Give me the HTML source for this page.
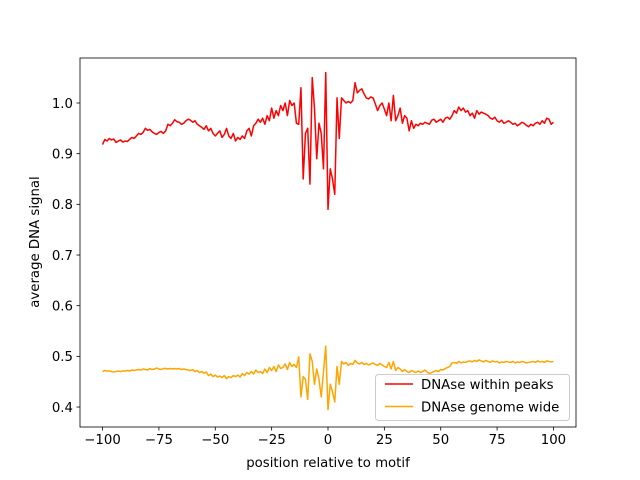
<!DOCTYPE html>
<html><head><meta charset="utf-8"><style>
body{margin:0;background:#fff;}
svg{display:block;font-family:"DejaVu Sans","Liberation Sans",sans-serif;}
</style></head><body>
<svg id="chart" width="640" height="480">
<rect x="0" y="0" width="640" height="480" fill="#fff"/>
<g id="plot"></g>
</svg>
<script>
const positions = [];
for (let u = -100; u <= 100; u++) positions.push(u);
const xTicks = [-100,-75,-50,-25,0,25,50,75,100];
const yTicks = [0.4,0.5,0.6,0.7,0.8,0.9,1.0];
const yTickLabels = ["0.4","0.5","0.6","0.7","0.8","0.9","1.0"];
const seriesNames = ["DNAse within peaks","DNAse genome wide"];
const peaksValues = [
.918,.928,.925,.930,.927,.929,.922,.925,.927,.923,
.925,.924,.928,.932,.930,.935,.940,.938,.942,.950,
.946,.948,.943,.940,.938,.942,.944,.940,.945,.958,
.955,.960,.967,.963,.962,.958,.960,.965,.968,.966,
.962,.965,.958,.955,.952,.948,.955,.945,.950,.940,
.935,.940,.945,.932,.938,.950,.935,.930,.940,.925,
.932,.928,.935,.930,.945,.950,.935,.955,.960,.968,
.962,.970,.958,.975,.965,.990,.970,.985,.975,.995,
.985,1.000,.975,1.005,.995,1.000,.960,.958,1.030,.850,
.940,.950,.840,1.050,.990,.890,.960,.940,.870,1.060,
.790,.870,.850,.820,1.010,.930,1.010,1.005,1.000,1.003,
1.000,1.005,1.040,1.020,1.025,1.028,1.018,1.010,1.008,1.012,
1.010,.998,.985,.995,1.000,.988,.975,1.000,.965,1.015,
.965,.975,.990,.960,.975,.970,.945,.965,.950,.958,
.955,.960,.958,.962,.960,.958,.966,.968,.962,.965,
.968,.962,.970,.972,.968,.975,.985,.980,.992,.985,
.990,.982,.985,.975,.980,.970,.985,.978,.982,.980,
.978,.975,.970,.968,.972,.965,.962,.966,.960,.962,
.965,.962,.958,.960,.955,.958,.962,.960,.956,.953,
.958,.955,.960,.962,.958,.965,.960,.970,.968,.958,
.962];
const genomeValues = [
.470,.472,.471,.471,.470,.469,.470,.471,.470,.471,
.471,.472,.471,.473,.472,.473,.474,.473,.475,.474,
.473,.476,.474,.475,.477,.475,.474,.476,.476,.475,
.476,.475,.476,.475,.476,.474,.475,.474,.473,.472,
.474,.470,.472,.468,.470,.467,.469,.462,.465,.460,
.463,.459,.461,.458,.462,.456,.460,.458,.462,.460,
.463,.459,.466,.462,.468,.465,.470,.465,.473,.468,
.470,.466,.475,.468,.478,.472,.480,.470,.483,.476,
.478,.485,.474,.488,.480,.484,.478,.499,.420,.460,
.455,.415,.505,.490,.445,.475,.455,.420,.470,.520,
.395,.445,.430,.410,.480,.445,.490,.485,.488,.482,
.486,.484,.492,.487,.485,.488,.484,.486,.483,.485,
.487,.484,.482,.486,.483,.480,.478,.488,.475,.490,
.472,.478,.475,.470,.474,.470,.468,.472,.470,.468,
.471,.468,.470,.473,.469,.466,.468,.470,.472,.470,
.474,.473,.476,.478,.480,.487,.488,.486,.490,.487,
.489,.488,.490,.491,.489,.492,.490,.493,.491,.489,
.492,.490,.488,.491,.489,.490,.487,.489,.488,.490,
.489,.488,.490,.487,.489,.488,.490,.489,.487,.488,
.489,.490,.488,.491,.489,.490,.488,.491,.490,.489,
.490];

const L=80,R=576,T=58,B=427;
const xMin=-110,xMax=110;
const yMin=0.3625,yMax=1.0855;
function xs(v){return L+(v-xMin)/(xMax-xMin)*(R-L);}
function ys(v){return 103+(1.0-v)*506.7;}
const NS="http://www.w3.org/2000/svg";
const g=document.getElementById('plot');
function mk(tag,attrs,parent){const e=document.createElementNS(NS,tag);for(const k in attrs)e.setAttribute(k,attrs[k]);(parent||g).appendChild(e);return e;}

function drawLine(vals,color,name){
  const d=vals.map((v,i)=>(i?'L':'M')+xs(positions[i]).toFixed(2)+','+ys(v).toFixed(2)).join(' ');
  const p=mk('path',{d:d,fill:'none',stroke:color,'stroke-width':1.5,'stroke-linejoin':'round'});
  
  
}
drawLine(peaksValues,'#ff0000','series-within-peaks');
drawLine(genomeValues,'#ffa500','series-genome-wide');

// axes frame
const frame=mk('rect',{x:L,y:T,width:R-L,height:B-T,fill:'none',stroke:'#000','stroke-width':0.8});



xTicks.forEach(t=>{
  const x=xs(t);
  mk('line',{x1:x,x2:x,y1:B,y2:B+3.5,stroke:'#000','stroke-width':0.8});
  const tx=mk('text',{x:x,y:B+17,'text-anchor':'middle','font-size':'13.3px',fill:'#000'});
  tx.textContent=String(t).replace('-','\u2212');
  
  
});
yTicks.forEach((t,i)=>{
  const y=ys(t);
  mk('line',{x1:L-3.5,x2:L,y1:y,y2:y,stroke:'#000','stroke-width':0.8});
  const tx=mk('text',{x:L-7,y:y+4.8,'text-anchor':'end','font-size':'13.3px',fill:'#000'});
  tx.textContent=yTickLabels[i];
  
  
});
const xl=mk('text',{x:(L+R)/2,y:467,'text-anchor':'middle','font-size':'13.3px',fill:'#000'});
xl.textContent='position relative to motif';


const yl=mk('text',{x:0,y:0,'text-anchor':'middle','font-size':'13.3px',fill:'#000',transform:'translate(39,242) rotate(-90)'});
yl.textContent='average DNA signal';



// legend
const lg=mk('g',{});


mk('rect',{x:375.5,y:374.5,width:194,height:46,rx:3,fill:'#fff','fill-opacity':0.8,stroke:'#ccc','stroke-width':1},lg);
const colors=['#ff0000','#ffa500'];
seriesNames.forEach((n,i)=>{
  const y=384+i*22.5;
  const e=mk('g',{},lg);
  
  
  mk('line',{x1:385,x2:413,y1:y,y2:y,stroke:colors[i],'stroke-width':1.5},e);
  const t=mk('text',{x:421,y:y+4.8,'font-size':'13.3px',fill:'#000'},e);
  t.textContent=n;
});
</script>
</body></html>
